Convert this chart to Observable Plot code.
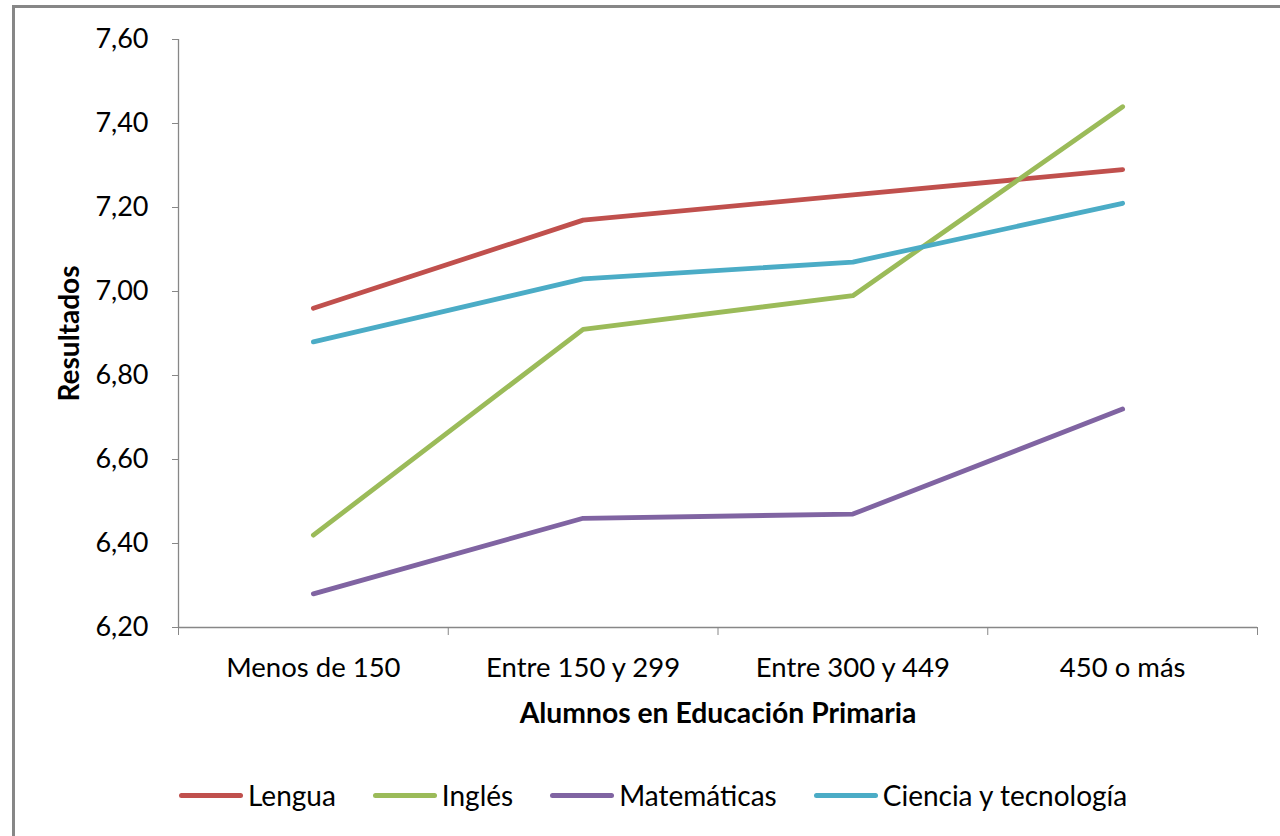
<!DOCTYPE html>
<html>
<head>
<meta charset="utf-8">
<script src="https://cdn.jsdelivr.net/npm/d3@7"></script>
<script src="https://cdn.jsdelivr.net/npm/@observablehq/plot@0.6"></script>
<style>
  html, body { margin: 0; padding: 0; background: #fff; width: 1280px; height: 836px; overflow: hidden; }
  body { position: relative; font-family: Lato, "Open Sans", sans-serif; }
  #frame { position: absolute; left: 12px; top: 5px; width: 1300px; height: 900px; border: 3px solid #878787; box-sizing: border-box; }
  #chart { position: absolute; left: 0; top: 0; }
  #legend { position: absolute; left: 179px; top: 778px; display: flex; align-items: center; font-size: 28px; color: #000; }
  .item { display: flex; align-items: center; margin-right: 37px; }
  .sw { width: 64px; height: 5px; border-radius: 3px; margin-right: 5px; }
</style>
</head>
<body>
<div id="frame"></div>
<div id="chart"></div>
<div id="legend"></div>
<script>
const categories = ["Menos de 150", "Entre 150 y 299", "Entre 300 y 449", "450 o más"];
const seriesNames = ["Lengua", "Inglés", "Matemáticas", "Ciencia y tecnología"];
const lengua = [6.96, 7.17, 7.23, 7.29];
const ingles = [6.42, 6.91, 6.99, 7.44];
const matematicas = [6.28, 6.46, 6.47, 6.72];
const ciencia = [6.88, 7.03, 7.07, 7.21];
const colors = ["#C0504D", "#9BBB59", "#8064A2", "#4BACC6"];
const yTicks = [6.2, 6.4, 6.6, 6.8, 7.0, 7.2, 7.4, 7.6];
const xTitle = "Alumnos en Educación Primaria";
const yTitle = "Resultados";

const seriesValues = [lengua, ingles, matematicas, ciencia];
const data = [];
seriesNames.forEach((s, si) => {
  categories.forEach((c, ci) => {
    data.push({series: s, cat: c, idx: ci + 0.5, value: seriesValues[si][ci]});
  });
});

const fmt = d => d.toFixed(2).replace(".", ",");
const axisColor = "#878787";

const chart = Plot.plot({
  width: 1280,
  height: 740,
  marginLeft: 178,
  marginRight: 23,
  marginTop: 39,
  marginBottom: 113,
  style: {fontFamily: "Lato, 'Open Sans', sans-serif", background: "transparent", color: "#000"},
  x: {domain: [0, categories.length], axis: null},
  y: {domain: [6.2, 7.6], axis: null},
  color: {domain: seriesNames, range: colors},
  marks: [
    Plot.ruleX([0], {stroke: axisColor, strokeWidth: 1.3}),
    Plot.ruleY([6.2], {stroke: axisColor, strokeWidth: 1.3}),
    Plot.axisY({ticks: yTicks, tickFormat: fmt, tickSize: 6, tickPadding: 24, stroke: axisColor, fontSize: 27, fill: "#000", label: null}),
    Plot.axisX({ticks: d3.range(categories.length + 1), tickFormat: () => "", tickSize: 8, stroke: axisColor, label: null}),
    Plot.axisX({ticks: categories.map((c, i) => i + 0.5), tickFormat: v => categories[Math.floor(v)], tickSize: 0, tickPadding: 30, fontSize: 27.5, fill: "#000", label: null}),
    Plot.line(data, {x: "idx", y: "value", z: "series", stroke: "series", strokeWidth: 4.8, strokeLinecap: "round", strokeLinejoin: "round"}),
    Plot.text([xTitle], {frameAnchor: "bottom", dy: 95, fontSize: 28.3, fontWeight: "bold", fill: "#000"}),
    Plot.text([yTitle], {frameAnchor: "left", dx: -108, rotate: -90, textAnchor: "middle", fontSize: 28, fontWeight: "bold", fill: "#000"})
  ]
});
document.getElementById("chart").appendChild(chart);

const legend = document.getElementById("legend");
seriesNames.forEach((s, i) => {
  const item = document.createElement("div");
  item.className = "item";
  const sw = document.createElement("div");
  sw.className = "sw";
  sw.style.background = colors[i];
  const t = document.createElement("span");
  t.textContent = s;
  item.appendChild(sw);
  item.appendChild(t);
  legend.appendChild(item);
});
</script>
</body>
</html>
